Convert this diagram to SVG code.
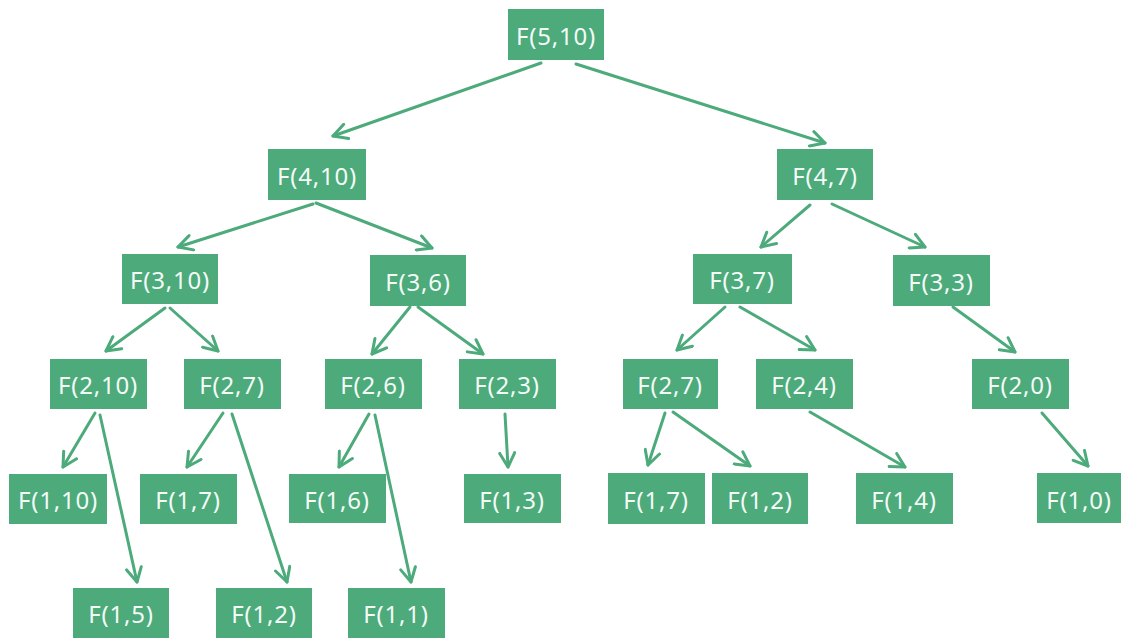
<svg xmlns="http://www.w3.org/2000/svg" width="1123" height="638" viewBox="0 0 1123 638">
<defs>
<style>
.n rect{fill:#4caa7b;}
.n text{fill:#f4fbf7;font-family:"Noto Sans","Open Sans",sans-serif;font-size:24px;letter-spacing:0.8px;text-anchor:middle;dominant-baseline:central;}
.e line{stroke:#4caa7b;stroke-width:3;stroke-linecap:round;fill:none;marker-end:url(#ah);}
</style>
<marker id="ah" viewBox="0 0 18 18" refX="16" refY="9" markerWidth="18" markerHeight="18" markerUnits="userSpaceOnUse" orient="auto">
<path d="M2,1.5 L16,9 L2,16.5" fill="none" stroke="#4caa7b" stroke-width="3" stroke-linecap="round" stroke-linejoin="round"/>
</marker>
</defs>
<rect width="1123" height="638" fill="#ffffff"/>
<g id="edges" class="e">
<line x1="541" y1="63" x2="333" y2="136"/>
<line x1="576" y1="64" x2="825" y2="143"/>
<line x1="313" y1="204" x2="178" y2="247"/>
<line x1="316" y1="203" x2="432" y2="248"/>
<line x1="165" y1="308" x2="106" y2="351"/>
<line x1="170" y1="308" x2="218" y2="351"/>
<line x1="410" y1="307" x2="372" y2="354"/>
<line x1="418" y1="307" x2="483" y2="354"/>
<line x1="95" y1="413" x2="63" y2="467"/>
<line x1="100" y1="415" x2="137" y2="582"/>
<line x1="223" y1="413" x2="187" y2="467"/>
<line x1="232" y1="414" x2="287" y2="582"/>
<line x1="369" y1="414" x2="339" y2="467"/>
<line x1="375" y1="415" x2="411" y2="582"/>
<line x1="505" y1="414" x2="508" y2="467"/>
<line x1="810" y1="205" x2="761" y2="247"/>
<line x1="832" y1="204" x2="925" y2="247"/>
<line x1="725" y1="307" x2="677" y2="350"/>
<line x1="740" y1="307" x2="815" y2="350"/>
<line x1="665" y1="413" x2="648" y2="465"/>
<line x1="673" y1="412" x2="750" y2="466"/>
<line x1="810" y1="412" x2="905" y2="467"/>
<line x1="953" y1="307" x2="1015" y2="352"/>
<line x1="1042" y1="413" x2="1088" y2="466"/>
</g>
<g id="n510" class="n"><rect x="508" y="9" width="96" height="51"/><text x="556" y="35">F(5,10)</text></g>
<g id="n410" class="n"><rect x="268" y="149" width="98" height="51"/><text x="317" y="175">F(4,10)</text></g>
<g id="n47" class="n"><rect x="777" y="149" width="96" height="51"/><text x="825" y="175">F(4,7)</text></g>
<g id="n310" class="n"><rect x="122" y="254" width="96" height="50"/><text x="170" y="279">F(3,10)</text></g>
<g id="n36" class="n"><rect x="370" y="255" width="96" height="51"/><text x="418" y="281">F(3,6)</text></g>
<g id="n37" class="n"><rect x="693" y="254" width="99" height="50"/><text x="742" y="279">F(3,7)</text></g>
<g id="n33" class="n"><rect x="893" y="255" width="97" height="51"/><text x="941" y="281">F(3,3)</text></g>
<g id="n210" class="n"><rect x="50" y="359" width="97" height="50"/><text x="98" y="384">F(2,10)</text></g>
<g id="n27a" class="n"><rect x="184" y="359" width="97" height="50"/><text x="232" y="384">F(2,7)</text></g>
<g id="n26" class="n"><rect x="325" y="359" width="97" height="50"/><text x="373" y="384">F(2,6)</text></g>
<g id="n23" class="n"><rect x="459" y="359" width="97" height="50"/><text x="507" y="384">F(2,3)</text></g>
<g id="n27b" class="n"><rect x="623" y="359" width="95" height="50"/><text x="670" y="384">F(2,7)</text></g>
<g id="n24" class="n"><rect x="756" y="359" width="97" height="50"/><text x="804" y="384">F(2,4)</text></g>
<g id="n20" class="n"><rect x="972" y="359" width="97" height="50"/><text x="1020" y="384">F(2,0)</text></g>
<g id="n110" class="n"><rect x="9" y="474" width="98" height="50"/><text x="58" y="499">F(1,10)</text></g>
<g id="n17a" class="n"><rect x="140" y="474" width="97" height="50"/><text x="188" y="499">F(1,7)</text></g>
<g id="n16" class="n"><rect x="289" y="474" width="97" height="49"/><text x="337" y="499">F(1,6)</text></g>
<g id="n13" class="n"><rect x="464" y="474" width="97" height="49"/><text x="512" y="499">F(1,3)</text></g>
<g id="n17b" class="n"><rect x="608" y="473" width="97" height="51"/><text x="656" y="499">F(1,7)</text></g>
<g id="n12a" class="n"><rect x="712" y="473" width="96" height="51"/><text x="760" y="499">F(1,2)</text></g>
<g id="n14" class="n"><rect x="856" y="473" width="97" height="51"/><text x="904" y="499">F(1,4)</text></g>
<g id="n10" class="n"><rect x="1037" y="473" width="84" height="50"/><text x="1079" y="499">F(1,0)</text></g>
<g id="n15" class="n"><rect x="73" y="588" width="96" height="50"/><text x="121" y="613">F(1,5)</text></g>
<g id="n12b" class="n"><rect x="216" y="588" width="96" height="50"/><text x="264" y="613">F(1,2)</text></g>
<g id="n11" class="n"><rect x="348" y="588" width="97" height="50"/><text x="396" y="613">F(1,1)</text></g>
</svg>
